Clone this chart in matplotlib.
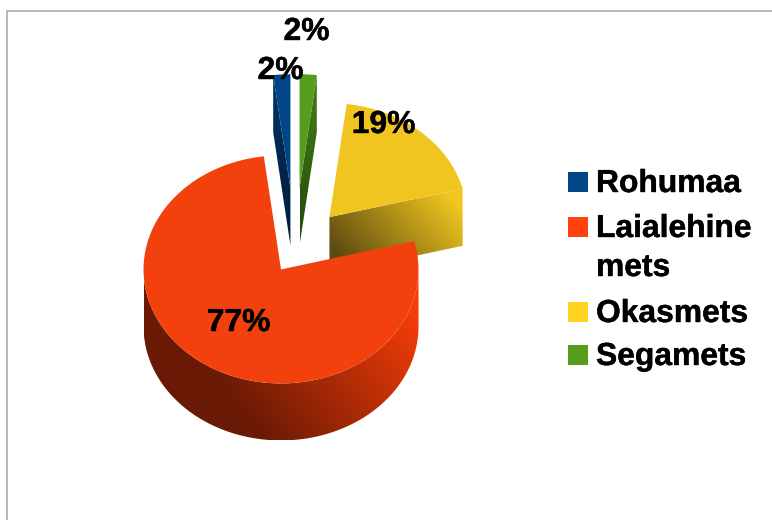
import numpy as np
import matplotlib
matplotlib.use("Agg")
import matplotlib.pyplot as plt
import matplotlib.patheffects as pe
from matplotlib.patches import Polygon, Rectangle
from matplotlib.colors import to_rgb

# --- data ---
categories = ["Rohumaa", "Laialehine\nmets", "Okasmets", "Segamets"]
values = [2, 77, 19, 2]
pct_labels = ["2%", "77%", "19%", "2%"]
colors = ["#004586", "#f2410d", "#f0c51f", "#579d1c"]
legend_colors = ["#004586", "#ff420e", "#ffd320", "#579d1c"]
dark = ["#001c3c", "#6a1a05", "#5f4c10", "#234a0c"]

# --- pie styling ---
CX, CY = 304.5, 242.0
A, B, DEPTH = 137.5, 114.0, 57.0
explode = [65, 40, 40, 65]
shift_x = [-10, -1, -1.5, -9]
label_xy = [(280.5, 79), (238.5, 331), (383.5, 133), (306.5, 40)]
legend_y = [192, 237, 322, 365]
FONT = "Liberation Sans"
FS = 22.9
STROKE = [pe.withStroke(linewidth=0.3, foreground="black")]

fig = plt.figure(figsize=(7.72, 5.2), dpi=100)
ax = fig.add_axes([0, 0, 1, 1])
ax.set_axis_off()


def arc(c, a0, a1, n=120):
    t = np.radians(np.linspace(a0, a1, n))
    return np.column_stack([c[0] + A * np.cos(t), c[1] - B * np.sin(t)])


def gradient_poly(pts, c0, c1, tfunc):
    """Fill polygon with a colour gradient; tfunc maps x, y to 0..1."""
    pts = np.asarray(pts)
    x0, x1 = pts[:, 0].min(), pts[:, 0].max()
    y0, y1 = pts[:, 1].min(), pts[:, 1].max()
    xx, yy = np.meshgrid(np.linspace(x0, x1, 300), np.linspace(y0, y1, 300))
    t = np.clip(tfunc(xx, yy), 0, 1)[..., None]
    img = np.array(to_rgb(c0)) * (1 - t) + np.array(to_rgb(c1)) * t
    im = ax.imshow(img, extent=(x0, x1, y1, y0), aspect="auto", interpolation="bilinear")
    patch = Polygon(pts, closed=True, transform=ax.transData, fc="none", ec="none")
    ax.add_patch(patch)
    im.set_clip_path(patch)


# cumulative angles, counter-clockwise from 12 o'clock
starts = 90 + 3.6 * np.concatenate([[0], np.cumsum(values)[:-1]])
ends = starts + 3.6 * np.array(values)
apex = []
for s, e, ex, sx in zip(starts, ends, explode, shift_x):
    mid = np.radians((s + e) / 2)
    apex.append((CX + ex * np.cos(mid) + sx, CY - ex * np.sin(mid) * B / A))

down = np.array([0, DEPTH])
order = [0, 3, 2, 1]
for i in order:
    c = np.array(apex[i])
    top_arc = arc(c, starts[i], ends[i])
    if i == 1:  # outer wall, front half of the big slice
        w = arc(c, 180, 360)
        wall = np.vstack([w, (w + down)[::-1]])
        gradient_poly(wall, dark[i], "#f53d08",
                      lambda x, y: ((x - 150) + (300 - y) * 0.8) / 255)
    elif i == 2:  # radial face on the low edge
        p = arc(c, starts[i], starts[i], 1)[0]
        wall = np.array([c, p, p + down, c + down])
        gradient_poly(wall, dark[i], "#f2c820",
                      lambda x, y: ((x - 335) + (250 - y) * 0.9) / 165)
    elif i == 0:  # blue: radial face on its left edge
        p = arc(c, ends[i], ends[i], 1)[0]
        wall = np.array([c, p, p + down, c + down])
        gradient_poly(wall, "#00305e", dark[i], lambda x, y: (y - 100) / 140)
    else:  # green: radial face on its right edge
        p = arc(c, starts[i], starts[i], 1)[0]
        wall = np.array([c, p, p + down, c + down])
        gradient_poly(wall, "#3f7a14", dark[i], lambda x, y: (y - 100) / 140)
    ax.add_patch(Polygon(np.vstack([c, top_arc]), closed=True, fc=colors[i], ec="none"))

# percent labels
for (x, y), s in zip(label_xy, pct_labels):
    ax.text(x, y, s, ha="center", va="baseline", family=FONT, weight="bold",
            fontsize=FS, color="black", path_effects=STROKE)

# legend
for name, col, y in zip(categories, legend_colors, legend_y):
    ax.add_patch(Rectangle((568, y - 20), 20, 20, fc=col, ec="none"))
    lines = name.split("\n")
    ax.text(596, y, lines[0], ha="left", va="baseline", family=FONT, weight="bold",
            fontsize=FS, color="black", path_effects=STROKE)
    if len(lines) > 1:
        ax.text(596, y + 39, lines[1], ha="left", va="baseline", family=FONT,
                weight="bold", fontsize=FS, color="black", path_effects=STROKE)

# frame of the embedding picture
ax.plot([6.5, 6.5, 772], [520, 10.5, 10.5], color="#a6a6a6", lw=1.1, solid_capstyle="butt")

ax.set_xlim(0, 772)
ax.set_ylim(520, 0)
fig.savefig("out.png", dpi=100, facecolor="white")
